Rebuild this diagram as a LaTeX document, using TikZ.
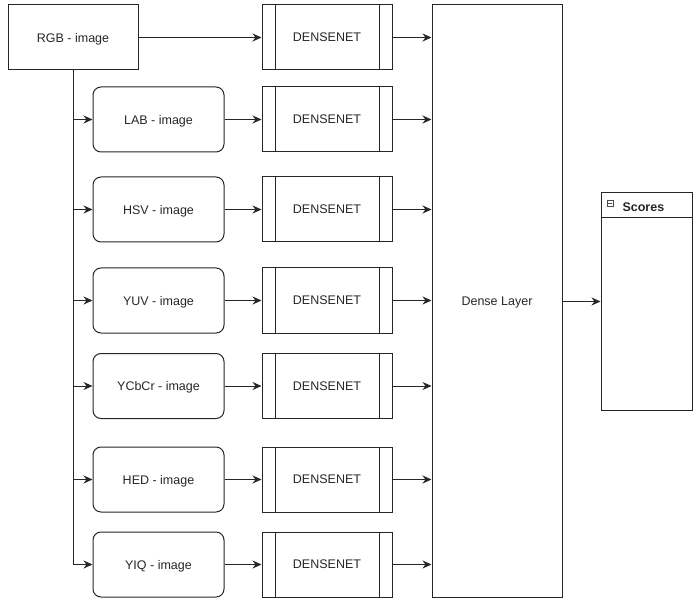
\documentclass[tikz,border=0pt]{standalone}
\usepackage{fontspec}
\setmainfont{Liberation Sans}
\usetikzlibrary{arrows.meta,calc}
\begin{document}
\begin{tikzpicture}[x=1pt,y=-1pt,
  every node/.style={font=\fontsize{12.5}{15}\selectfont, text=black!85},
  line/.style={draw=black!85, line width=1pt},
  arr/.style={line, -{Stealth[length=9pt,width=8pt,inset=3pt]}},
  plainbox/.style={line, rectangle, minimum width=130pt, minimum height=65pt, inner sep=0pt, text depth=0pt},
  imgbox/.style={line, rectangle, rounded corners=8pt, minimum width=131pt, minimum height=65pt, inner sep=0pt, text depth=0pt},
  dnbox/.style={line, rectangle, minimum width=130pt, minimum height=65pt, inner sep=0pt, text depth=0pt,
    path picture={
      \draw[black!85, line width=1pt] ([xshift=13pt]path picture bounding box.north west) -- ([xshift=13pt]path picture bounding box.south west);
      \draw[black!85, line width=1pt] ([xshift=-13pt]path picture bounding box.north east) -- ([xshift=-13pt]path picture bounding box.south east);
    }},
]
\useasboundingbox (0,0) rectangle (699,604);

\node[plainbox] (rgb) at (73,37.5) {RGB - image};
\node[imgbox] (lab) at (158.5,119.5) {LAB - image};
\node[imgbox] (hsv) at (158.5,209.5) {HSV - image};
\node[imgbox] (yuv) at (158.5,300.5) {YUV - image};
\node[imgbox] (ycc) at (158.5,386) {YCbCr - image};
\node[imgbox] (hed) at (158.5,479.5) {HED - image};
\node[imgbox] (yiq) at (158.5,564.5) {YIQ - image};

\node[dnbox] (d1) at (327,37.5) {DENSENET};
\node[dnbox] (d2) at (327,119.5) {DENSENET};
\node[dnbox] (d3) at (327,209.5) {DENSENET};
\node[dnbox] (d4) at (327,300.5) {DENSENET};
\node[dnbox] (d5) at (327,386) {DENSENET};
\node[dnbox] (d6) at (327,479.5) {DENSENET};
\node[dnbox] (d7) at (327,564.5) {DENSENET};

\node[line, rectangle, minimum width=130pt, minimum height=592pt, inner sep=0pt, text depth=0pt] (dense) at (497,301) {Dense Layer};

\node[line, rectangle, minimum width=91pt, minimum height=217pt, inner sep=0pt] (scores) at (646.5,301.5) {};
\draw[line] ($(scores.north west)+(0,25)$) coordinate (hl) -- (hl -| scores.east);
\node[font=\bfseries\fontsize{12.5}{15}\selectfont, anchor=west] (stitle) at (619,207) {Scores};
\node[draw=black!70, line width=0.5pt, minimum size=6pt, inner sep=0pt] (sicon) at (610,203) {};
\draw[black!70, line width=0.6pt] ($(sicon.west)+(1.5,0)$) -- ($(sicon.east)+(-1.5,0)$);

\draw[arr] (rgb) -- (d1);
\foreach \i/\d in {lab/d2,hsv/d3,yuv/d4,ycc/d5,hed/d6,yiq/d7}{
  \draw[arr] (rgb.south) |- (\i.west);
  \draw[arr] (\i) -- (\d);
}
\foreach \d in {d1,d2,d3,d4,d5,d6,d7}{
  \draw[arr] (\d.east) -- (\d.east -| dense.west);
}
\draw[arr] (dense.east |- scores.west) -- (scores.west);
\end{tikzpicture}
\end{document}
